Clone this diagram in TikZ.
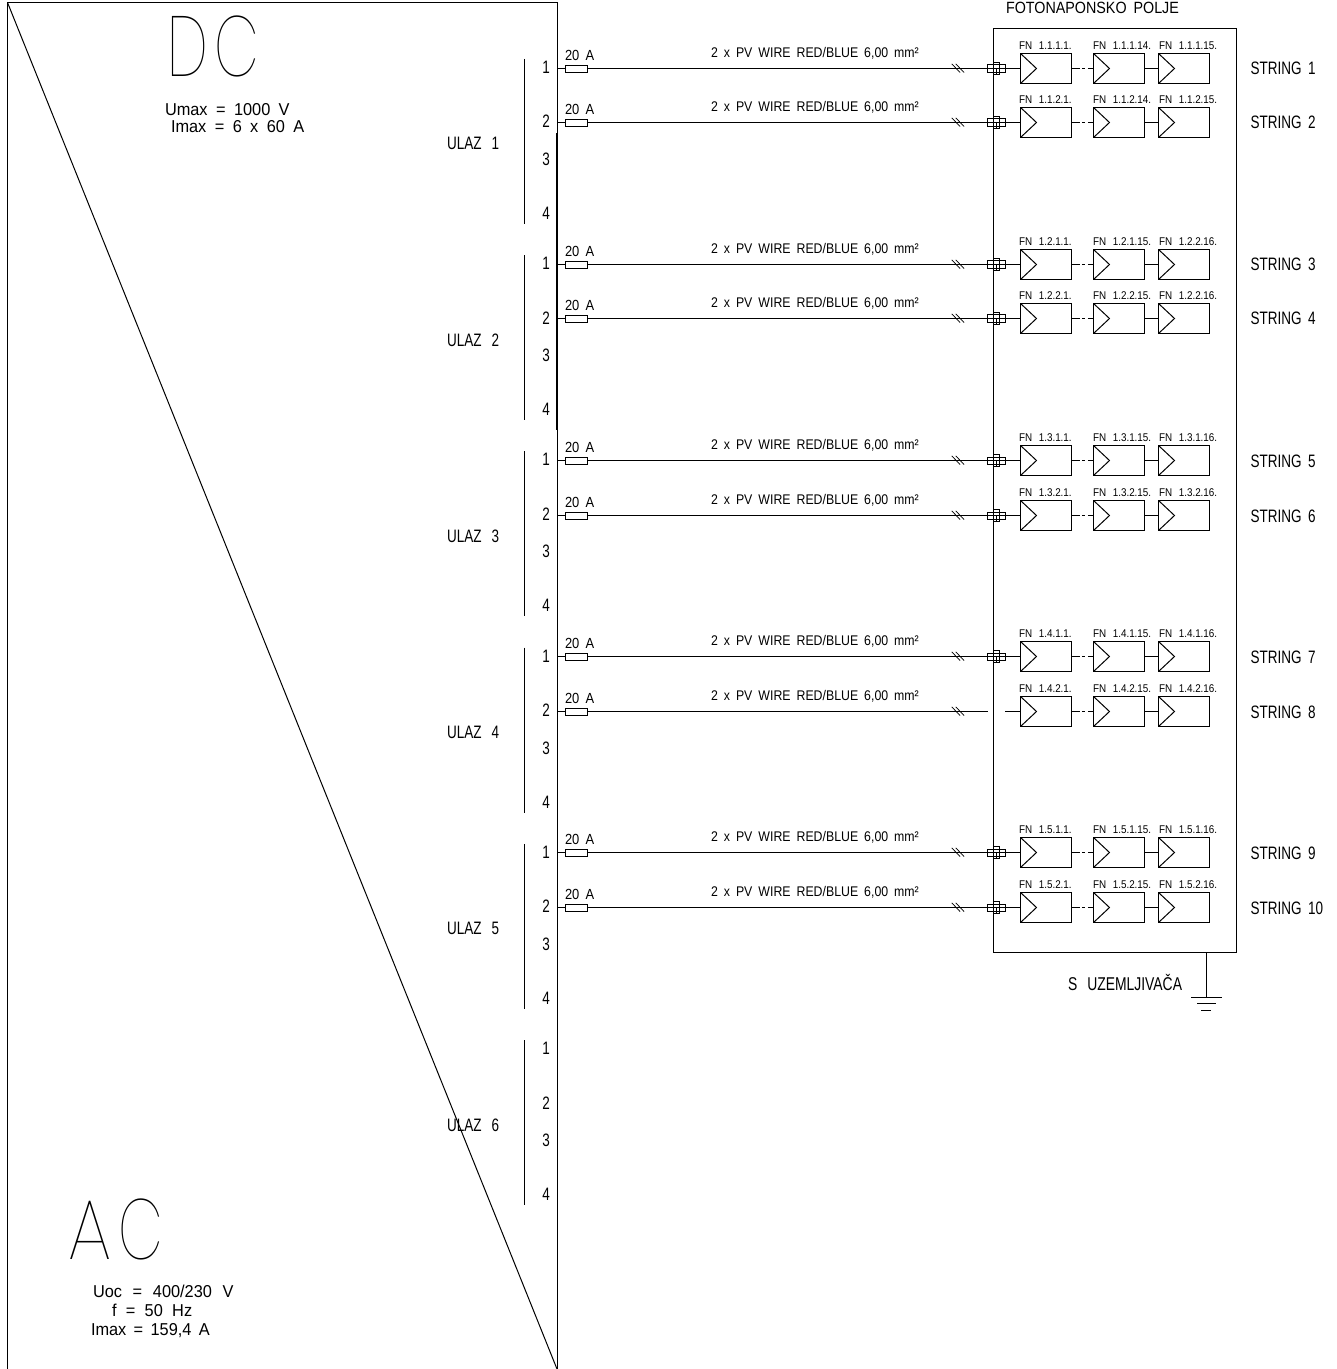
\documentclass[tikz,border=0pt]{standalone}
\usepackage{fontspec}
\setmainfont{Liberation Sans}[FakeStretch=0.88]
\newfontfamily\narrowf{Liberation Sans}[FakeStretch=0.75]
\newfontfamily\widef{Liberation Sans}[FakeStretch=0.95]
\newfontfamily\thinf{Poppins Thin}[FakeStretch=0.68]
\newfontfamily\thina{Poppins Thin}[FakeStretch=0.84]
\usetikzlibrary{calc}
\newcommand{\wsp}[1]{\spaceskip #1\relax}
\tikzset{
  ln/.style={draw=black,line width=0.75pt},
  thinln/.style={draw=black,line width=0.55pt},
  tx/.style={inner sep=0,outer sep=0,text=black,font={\narrowf\fontsize{13.5}{14}\selectfont\wsp{5pt}}},
  note/.style={inner sep=0,outer sep=0,text=black,font={\widef\fontsize{12.9}{13}\selectfont\wsp{6.3pt}}},
  wirelab/.style={inner sep=0,outer sep=0,text=black,font={\fontsize{10.5}{11}\selectfont\wsp{4.5pt}}},
  amplab/.style={inner sep=0,outer sep=0,text=black,font={\fontsize{11}{11}\selectfont\wsp{4.7pt}}},
  small/.style={inner sep=0,outer sep=0,text=black,font={\fontsize{8.4}{9}\selectfont\wsp{5pt}}},
  panel/.style={draw=black,line width=0.8pt,minimum width=38.25pt,minimum height=22.5pt,inner sep=0,outer sep=0},
  fuse/.style={draw=black,line width=0.6pt,fill=white,minimum width=16.5pt,minimum height=5.2pt,inner sep=0,outer sep=0},
  conh/.style={draw=black,line width=0.6pt,minimum width=14pt,minimum height=5.4pt,inner sep=0,outer sep=0},
  conv/.style={draw=black,line width=0.6pt,minimum width=4.7pt,minimum height=9pt,inner sep=0,outer sep=0},
}
\newcommand{\strrow}[7]{%
 \coordinate (bus#1) at (557,#2);
 \coordinate (sl#1) at (960,#2);
 \node[panel] (pa#1) at (1046,#2) {};
 \node[panel] (pb#1) at (1119,#2) {};
 \node[panel] (pc#1) at (1184,#2) {};
 \ifnum#7=1
  \draw[ln] (bus#1) -- (pa#1.west);
  \node[conh] (cona#1) at (996.5,#2) {};
  \node[conv] (conb#1) at (996.3,#2-0.5) {};
  \draw[thinln] (conb#1.center) -- (conb#1.south) (conb#1.west) -- (conb#1.east);
 \else
  \coordinate (gapa#1) at (988,#2);
  \coordinate (gapb#1) at (1005,#2);
  \draw[ln] (bus#1) -- (gapa#1);
  \draw[ln] (gapb#1) -- (pa#1.west);
 \fi
 \node[fuse] (fuse#1) at (576,#2) {};
 \node[amplab,anchor=base west] (amp#1) at (565,#2-7.6) {20 A};
 \node[wirelab,anchor=base west] (wire#1) at (711,#2-11) {2 x PV WIRE RED/BLUE 6,00 mm²};
 \foreach \pn in {pa,pb,pc}{
  \draw[ln] (\pn#1.north west) -- ($(\pn#1.west)+(16,0)$) -- (\pn#1.south west);
 }
 \node[small,anchor=base west] (la#1) at (1019,#2-18.8) {#4};
 \node[small,anchor=base west] (lb#1) at (1093,#2-18.8) {#5};
 \node[small,anchor=base west] (lc#1) at (1159,#2-18.8) {#6};
 \node[tx,anchor=base west] (st#1) at (1250.5,#2+6.5) {STRING #3};
 \draw[ln,dash pattern=on 6pt off 1.8pt on 2.6pt off 1.8pt on 6pt] (pa#1.east) -- (pb#1.west);
 \draw[ln] (pb#1.east) -- (pc#1.west);
 \draw[thinln] ($(sl#1)+(-8.3,-4.7)$) -- ($(sl#1)+(0,4)$);
 \draw[thinln] ($(sl#1)+(-4.3,-4.7)$) -- ($(sl#1)+(4,4)$);
}
\newcommand{\ulaz}[2]{%
 \coordinate (bt#1) at (524.5,#2+59);
 \coordinate (bb#1) at (524.5,#2+224);
 \draw[ln] (bt#1) -- (bb#1);
 \node[tx,anchor=base west] (ul#1) at (447,#2+150) {ULAZ\hspace{7.5pt}#1};
 \node[tx,anchor=base] (n#1a) at (546,#2+73.5) {1};
 \node[tx,anchor=base] (n#1b) at (546,#2+128) {2};
 \node[tx,anchor=base] (n#1c) at (546,#2+165.5) {3};
 \node[tx,anchor=base] (n#1d) at (546,#2+219.5) {4};
}
\begin{document}
\begin{tikzpicture}[x=0.75pt,y=-0.75pt]
\useasboundingbox[fill=white] (0,0) rectangle (1336,1369);
% outer frame
\coordinate (tl) at (7.5,2.5); \coordinate (tr) at (557,2.5);
\coordinate (bl) at (7.5,1369); \coordinate (br) at (557,1369);
\draw[ln] (bl) -- (tl) -- (tr) -- (br);
\draw[ln] (tl) -- (br);
\coordinate (thicka) at (557,133); \coordinate (thickb) at (557,430);
\draw[draw=black,line width=0.9pt] (thicka) -- (thickb);
% field box
\node[draw=black,line width=0.75pt,inner sep=0,outer sep=0,minimum width=182.25pt,minimum height=693pt] (field) at (1115,490.5) {};
\node[tx,anchor=base west,font={\fontsize{12.2}{13}\selectfont\wsp{5.2pt}}] (fieldt) at (1006,13.3) {FOTONAPONSKO POLJE};
% DC / AC
\node[inner sep=0,anchor=base west] (dc) at (167,77) {\thinf\fontsize{64}{64}\selectfont D\hspace{5pt}C};
\node[note,anchor=base west] (u1) at (165,116) {Umax = 1000 V};
\node[note,anchor=base west] (u2) at (171,133) {Imax = 6 x 60 A};
\node[inner sep=0,anchor=base west] (ac) at (68,1259.5) {\thina\fontsize{64}{64}\selectfont A\hspace{5pt}\thinf C};
\node[note,anchor=base west,font={\widef\fontsize{12.9}{13}\selectfont\wsp{8pt}}] (u3) at (93,1297) {Uoc = 400/230 V};
\node[note,anchor=base west,font={\widef\fontsize{12.9}{13}\selectfont\wsp{7pt}}] (u4) at (112,1316) {f = 50 Hz};
\node[note,anchor=base west,font={\widef\fontsize{12.9}{13}\selectfont\wsp{5.5pt}}] (u5) at (91,1335) {Imax = 159,4 A};
% inputs
\ulaz{1}{0}
\ulaz{2}{196.2}
\ulaz{3}{392.4}
\ulaz{4}{588.6}
\ulaz{5}{784.8}
\ulaz{6}{981}
% strings
\strrow{1}{68.5}{1}{FN 1.1.1.1.}{FN 1.1.1.14.}{FN 1.1.1.15.}{1}
\strrow{2}{122.5}{2}{FN 1.1.2.1.}{FN 1.1.2.14.}{FN 1.1.2.15.}{1}
\strrow{3}{264.5}{3}{FN 1.2.1.1.}{FN 1.2.1.15.}{FN 1.2.2.16.}{1}
\strrow{4}{318.5}{4}{FN 1.2.2.1.}{FN 1.2.2.15.}{FN 1.2.2.16.}{1}
\strrow{5}{460.5}{5}{FN 1.3.1.1.}{FN 1.3.1.15.}{FN 1.3.1.16.}{1}
\strrow{6}{515.5}{6}{FN 1.3.2.1.}{FN 1.3.2.15.}{FN 1.3.2.16.}{1}
\strrow{7}{656.5}{7}{FN 1.4.1.1.}{FN 1.4.1.15.}{FN 1.4.1.16.}{1}
\strrow{8}{711.5}{8}{FN 1.4.2.1.}{FN 1.4.2.15.}{FN 1.4.2.16.}{0}
\strrow{9}{852.5}{9}{FN 1.5.1.1.}{FN 1.5.1.15.}{FN 1.5.1.16.}{1}
\strrow{10}{907.5}{10}{FN 1.5.2.1.}{FN 1.5.2.15.}{FN 1.5.2.16.}{1}
% earth
\coordinate (gtop) at (1206.5,952);
\coordinate (g1) at (1206.5,997.5);
\draw[ln] (gtop) -- (g1);
\coordinate (g1l) at (1191,997.5); \coordinate (g1r) at (1222,997.5);
\coordinate (g2l) at (1197,1003.5); \coordinate (g2r) at (1216,1003.5);
\coordinate (g3l) at (1201,1010.5); \coordinate (g3r) at (1211,1010.5);
\draw[ln] (g1l) -- (g1r) (g2l) -- (g2r) (g3l) -- (g3r);
\node[tx,anchor=base west,font={\narrowf\fontsize{13.9}{14}\selectfont\wsp{7.5pt}}] (gt) at (1068,990.5) {S UZEMLJIVAČA};
\end{tikzpicture}
\end{document}
